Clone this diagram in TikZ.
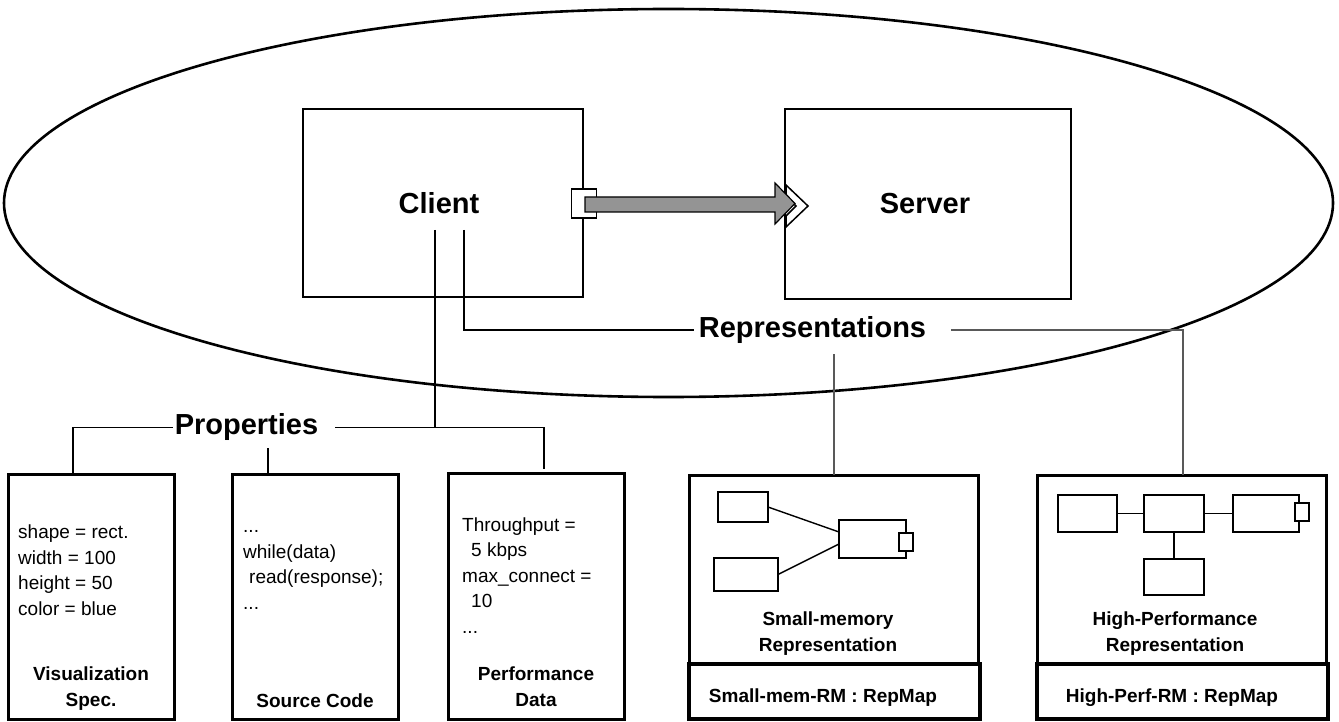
\documentclass[tikz,border=0pt]{standalone}
\usepackage{fontspec}
\setmainfont{Liberation Sans}
\usetikzlibrary{positioning}
\tikzset{
  big/.style={font=\fontsize{29}{34}\selectfont\bfseries, inner sep=0pt},
  body/.style={font=\fontsize{19}{25.4}\selectfont, align=left, inner sep=0pt, anchor=base west},
  caption/.style={font=\fontsize{19}{26}\selectfont\bfseries, align=center, inner sep=0pt, anchor=base},
  comp/.style={draw, line width=1.8pt, inner sep=0pt, outer sep=0pt, font=\fontsize{29}{34}\selectfont\bfseries},
  part/.style={draw, line width=3pt, inner sep=0pt, outer sep=0pt},
  mapbox/.style={draw, line width=4.5pt, inner sep=0pt, outer sep=0pt},
  port/.style={draw, fill=white, line width=1.5pt, inner sep=0pt, outer sep=0pt},
  mini/.style={draw, line width=1.4pt, inner sep=0pt, outer sep=0pt},
  conn/.style={line width=1.1pt},
  wire/.style={line width=1.4pt},
  flow/.style={draw, line width=1.2pt, fill=black!42},
  chevron/.style={draw, line width=1.5pt, fill=white, line join=miter}
}
\begin{document}
\begin{tikzpicture}[x=1pt,y=-1pt]
\useasboundingbox (0,0) rectangle (1339,722);
% the system
\draw[line width=2.6pt] (668.5,203) ellipse [x radius=664.5pt, y radius=194pt];

\node[comp, minimum width=286pt, minimum height=190pt] (server) at (928,204) {\hspace*{-6pt}Server};
\draw[chevron] (786,185) -- (808,206) -- (786,227) -- (786,216) -- (796,206) -- (786,196) -- cycle;
\node[comp, minimum width=280pt, minimum height=188pt] (client) at (443,203) {\hspace*{-8pt}Client};
\node[port, minimum width=25pt, minimum height=29pt] (cport) at (584,203.5) {};
\draw[flow] (585,197) -- (775,197) -- (775,183) -- (795,203.5) -- (775,224) -- (775,212) -- (585,212) -- cycle;

\node[big] (props) at (246.5,427.5) {Properties};
\node[big] (reps) at (812.5,330) {Representations};

\coordinate (cprop) at (435,230);
\coordinate (crep) at (464,230);
\coordinate (sdrop) at (268,448);
\coordinate (rdrop) at (834,354);

% properties (base of a node = last line)
\node[part, minimum width=166pt, minimum height=245pt] (vspec) at (91,596.5) {};
\node[part, minimum width=166pt, minimum height=245pt] (srccode) at (315,596.5) {};
\node[part, minimum width=176pt, minimum height=246pt] (perfdata) at (536,596) {};

\node[body] (vtext) at (18,615) {shape = rect.\\width = 100\\height = 50\\color = blue};
\node[caption] (vname) at (91,706) {Visualization\\Spec.};
\node[body] (stext) at (243,609) {...\\while(data)\\\hspace*{6pt}read(response);\\...};
\node[caption] (sname) at (315,707) {Source Code};
\node[body] (ptext) at (462,633) {Throughput =\\\hspace*{9pt}5 kbps\\max\_connect =\\\hspace*{9pt}10\\...};
\node[caption] (pname) at (536,706) {Performance\\Data};

% representations
\node[part, minimum width=289pt, minimum height=189pt] (smrep) at (833.5,569.5) {};
\node[mapbox, minimum width=291pt, minimum height=55pt] (smmap) at (834.5,691.5) {};
\node[caption] (smname) at (828,651) {Small-memory\\Representation};
\node[caption] (smlabel) at (823,702) {Small-mem-RM : RepMap};

\node[mini, minimum width=50pt, minimum height=30pt] (sa) at (743,507) {};
\node[mini, minimum width=64pt, minimum height=33pt] (sb) at (746,574.5) {};
\node[mini, minimum width=67pt, minimum height=38pt] (sc) at (872.5,539) {};
\node[port, minimum width=14pt, minimum height=18pt] (scport) at (906,542) {};
\draw[wire] (sa.east) -- ([yshift=7pt]sc.west);
\draw[wire] (sb.east) -- ([yshift=-5pt]sc.west);

\node[part, minimum width=289pt, minimum height=189pt] (hprep) at (1181.5,569.5) {};
\node[mapbox, minimum width=291pt, minimum height=55pt] (hpmap) at (1182.5,691.5) {};
\node[caption] (hpname) at (1175,651) {High-Performance\\Representation};
\node[caption] (hplabel) at (1172,702) {High-Perf-RM : RepMap};

\node[mini, minimum width=59pt, minimum height=37pt] (hd) at (1087.5,513.5) {};
\node[mini, minimum width=60pt, minimum height=37pt] (he) at (1174,513.5) {};
\node[mini, minimum width=66pt, minimum height=37pt] (hf) at (1266,513.5) {};
\node[port, minimum width=14pt, minimum height=18pt] (hfport) at (1302,512) {};
\node[mini, minimum width=60pt, minimum height=36pt] (hg) at (1174,577) {};
\draw[wire] (hd) -- (he);
\draw[wire] (he) -- (hf);
\draw[wire] (he) -- (hg);

% connectors
\draw[conn] (cprop) -- (cprop |- props.east);
\draw[conn] ([xshift=-2pt]props.west) -| ([xshift=-18pt]vspec.north);
\draw[conn] ([xshift=17pt]props.east) -| ([xshift=8pt,yshift=4pt]perfdata.north);
\draw[conn] (sdrop) -- (sdrop |- srccode.north);
\draw[conn] (crep) |- ([xshift=-5pt]reps.west);
\draw[conn, black!65] ([xshift=25pt]reps.east) -| ([xshift=1.5pt]hprep.north);
\draw[conn, black!65] (rdrop) -- (rdrop |- smrep.north);
\end{tikzpicture}
\end{document}
